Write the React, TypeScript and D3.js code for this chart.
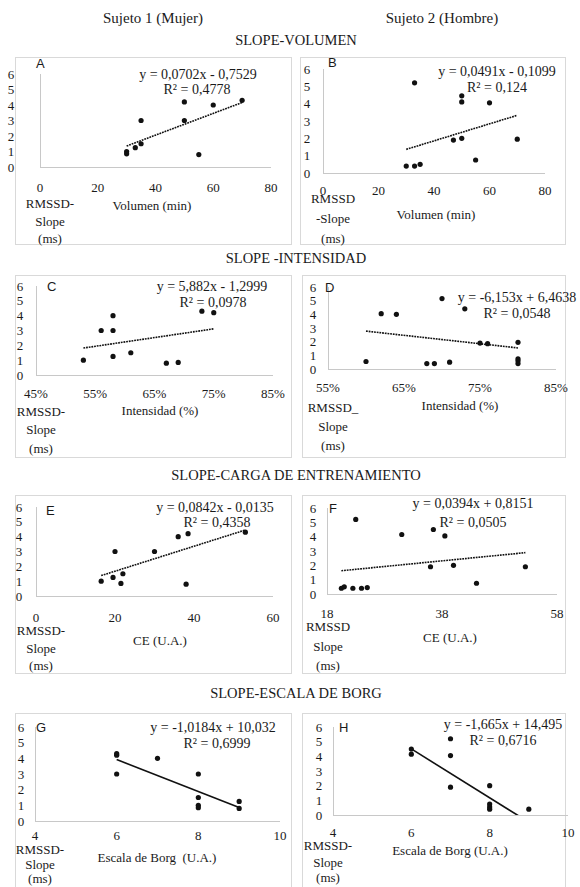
import React from "react";
import * as d3 from "d3";

const SERIF = "'Liberation Serif','Times New Roman',serif";
const SANS = "'Liberation Sans',Arial,sans-serif";

// ---------- data ----------
const subjectTitles = ["Sujeto 1 (Mujer)", "Sujeto 2 (Hombre)"];
const sectionTitles = ["SLOPE-VOLUMEN", "SLOPE -INTENSIDAD", "SLOPE-CARGA DE ENTRENAMIENTO", "SLOPE-ESCALA DE BORG"];
const panelLetters = ["A", "B", "C", "D", "E", "F", "G", "H"];

const yTicks = [0, 1, 2, 3, 4, 5, 6];

// A: Volumen, sujeto 1
const volA = [30, 30, 33, 35, 35, 50, 50, 60, 70, 55];
const slopeA = [1.0, 0.85, 1.25, 1.5, 3.0, 4.2, 3.0, 4.0, 4.3, 0.8];
// B: Volumen, sujeto 2
const volB = [30, 33, 35, 33, 47, 50, 50, 50, 60, 55, 70];
const slopeB = [0.4, 0.4, 0.5, 5.2, 1.9, 2.0, 4.45, 4.1, 4.05, 0.75, 1.95];
// C: Intensidad, sujeto 1
const intC = [0.53, 0.56, 0.58, 0.58, 0.58, 0.61, 0.67, 0.69, 0.73, 0.75];
const slopeC = [1.0, 3.0, 3.0, 4.0, 1.25, 1.5, 0.8, 0.85, 4.3, 4.2];
// D: Intensidad, sujeto 2
const intD = [0.6, 0.62, 0.64, 0.68, 0.69, 0.7, 0.71, 0.73, 0.75, 0.76, 0.8, 0.8, 0.8, 0.8];
const slopeD = [0.55, 4.05, 4.0, 0.4, 0.4, 5.15, 0.5, 4.4, 1.9, 1.85, 1.95, 0.75, 0.6, 0.4];
// E: CE, sujeto 1
const ceE = [16.5, 19.5, 20, 21.5, 22, 30, 36, 38.5, 38, 53];
const slopeE = [1.0, 1.25, 3.0, 0.85, 1.5, 3.0, 4.0, 4.2, 0.8, 4.3];
// F: CE, sujeto 2
const ceF = [20.5, 21, 22.5, 24, 25, 23, 31, 36.5, 38.5, 36, 40, 44, 52.5];
const slopeF = [0.4, 0.5, 0.4, 0.4, 0.45, 5.2, 4.15, 4.5, 4.05, 1.9, 2.0, 0.75, 1.9];
// G: Borg, sujeto 1
const borgG = [6, 6, 6, 7, 8, 8, 8, 8, 9, 9];
const slopeG = [4.3, 4.2, 3.0, 4.0, 3.0, 1.5, 1.0, 0.85, 1.25, 0.8];
// H: Borg, sujeto 2
const borgH = [6, 6, 7, 7, 7, 8, 8, 8, 8, 9];
const slopeH = [4.5, 4.15, 5.2, 4.05, 1.9, 2.0, 0.75, 0.55, 0.4, 0.4];

const trendSlopes = [0.0702, 0.0491, 5.882, -6.153, 0.0842, 0.0394, -1.0184, -1.665];
const trendIntercepts = [-0.7529, -0.1099, -1.2999, 6.4638, -0.0135, 0.8151, 10.032, 14.495];
const eqTexts = [
  "y = 0,0702x - 0,7529",
  "y = 0,0491x - 0,1099",
  "y = 5,882x - 1,2999",
  "y = -6,153x + 6,4638",
  "y = 0,0842x - 0,0135",
  "y = 0,0394x + 0,8151",
  "y = -1,0184x + 10,032",
  "y = -1,665x + 14,495",
];
const r2Texts = ["R² = 0,4778", "R² = 0,124", "R² = 0,0978", "R² = 0,0548", "R² = 0,4358", "R² = 0,0505", "R² = 0,6999", "R² = 0,6716"];

const xDomains = [[0, 80], [0, 80], [0.45, 0.85], [0.55, 0.85], [0, 60], [18, 58], [4, 10], [4, 10]];
const xTickSets = [
  [0, 20, 40, 60, 80],
  [0, 20, 40, 60, 80],
  [0.45, 0.55, 0.65, 0.75, 0.85],
  [0.55, 0.65, 0.75, 0.85],
  [0, 20, 40, 60],
  [18, 38, 58],
  [4, 6, 8, 10],
  [4, 6, 8, 10],
];
const xAxisTitles = ["Volumen (min)", "Volumen (min)", "Intensidad (%)", "Intensidad (%)", "CE (U.A.)", "CE (U.A.)", "Escala de Borg  (U.A.)", "Escala de Borg (U.A.)"];
const yAxisTitles = [
  ["RMSSD-", "Slope", "(ms)"],
  ["RMSSD", "-Slope", "(ms)"],
  ["RMSSD-", "Slope", "(ms)"],
  ["RMSSD_", "Slope", "(ms)"],
  ["RMSSD-", "Slope", "(ms)"],
  ["RMSSD", "Slope", "(ms)"],
  ["RMSSD-", "Slope", "(ms)"],
  ["RMSSD-", "Slope", "(ms)"],
];

const xsAll = [volA, volB, intC, intD, ceE, ceF, borgG, borgH];
const ysAll = [slopeA, slopeB, slopeC, slopeD, slopeE, slopeF, slopeG, slopeH];

// ---------- layout (positions) ----------
type Layout = {
  frame: [number, number, number, number];
  px: [number, number];
  py: [number, number]; // y of 0, y of 6
  letter: [number, number];
  yTickX: number;
  xTickY: number;
  eq: [number, number];
  r2: [number, number];
  xTitle: [number, number];
  yTitleX: number;
  yTitleYs: number[];
  pct: boolean;
  dotted: boolean;
};

const LX0 = 15, LX1 = 291, RX0 = 301, RX1 = 565;
const layouts: Layout[] = [
  { frame: [LX0, 57, LX1, 244], px: [40, 271], py: [167, 74], letter: [36, 63], yTickX: 11, xTickY: 187, eq: [198, 74], r2: [197, 89], xTitle: [152, 205], yTitleX: 50, yTitleYs: [203, 221, 238], pct: false, dotted: true },
  { frame: [RX0 - 1, 57, RX1, 244], px: [323, 545], py: [173, 69], letter: [328, 62], yTickX: 307, xTickY: 190, eq: [497, 71], r2: [497, 87], xTitle: [436, 214], yTitleX: 333, yTitleYs: [198, 218, 238], pct: false, dotted: true },
  { frame: [LX0, 275, LX1, 457], px: [36, 273], py: [375, 286], letter: [47, 286], yTickX: 20, xTickY: 393, eq: [212, 286], r2: [213, 302], xTitle: [160, 410], yTitleX: 41, yTitleYs: [411, 429, 448], pct: true, dotted: true },
  { frame: [RX0 + 1, 275, RX1, 457], px: [328, 556], py: [369, 287], letter: [325, 287], yTickX: 313, xTickY: 387, eq: [517, 297], r2: [517, 313], xTitle: [460, 405], yTitleX: 333, yTitleYs: [407, 426, 445], pct: true, dotted: true },
  { frame: [LX0, 495, LX1, 673], px: [36, 273], py: [596, 507], letter: [46, 510], yTickX: 19, xTickY: 617, eq: [215, 507], r2: [217, 522], xTitle: [160, 640], yTitleX: 41, yTitleYs: [630, 648, 665], pct: false, dotted: true },
  { frame: [RX0 + 1, 495, RX1, 673], px: [327, 557], py: [594, 508], letter: [329, 508], yTickX: 313, xTickY: 613, eq: [473, 503], r2: [473, 522], xTitle: [450, 637], yTitleX: 328, yTitleYs: [626, 646, 665], pct: false, dotted: true },
  { frame: [LX0, 713, LX1, 900], px: [35, 280], py: [821, 727], letter: [36, 727], yTickX: 21, xTickY: 835, eq: [213, 727], r2: [217, 743], xTitle: [157, 857], yTitleX: 40, yTitleYs: [849, 864, 878], pct: false, dotted: false },
  { frame: [RX0 + 1, 713, RX1, 900], px: [333, 568], py: [815, 727], letter: [339, 727], yTickX: 319, xTickY: 832, eq: [503, 724], r2: [503, 740], xTitle: [450, 850], yTitleX: 328, yTitleYs: [845, 862, 877], pct: false, dotted: false },
];

const TXT = "#1a1a1a";
const AXIS = "#c8c8c8";
const FRAME = "#d9d9d9";

function Panel({ i }: { i: number }) {
  const L = layouts[i];
  const xs = xsAll[i];
  const ys = ysAll[i];
  const x = d3.scaleLinear().domain(xDomains[i]).range(L.px);
  const y = d3.scaleLinear().domain([0, 6]).range(L.py);
  const fmt = L.pct ? d3.format(".0%") : d3.format("d");
  const [xmin, xmax] = d3.extent(xs) as [number, number];
  const line = d3
    .line<number>()
    .x((v) => x(v))
    .y((v) => y(trendSlopes[i] * v + trendIntercepts[i]));
  const clipId = `clip-${i}`;
  const [f0, f1, f2, f3] = L.frame;
  return (
    <g>
      <rect x={f0 + 0.5} y={f1 + 0.5} width={f2 - f0} height={f3 - f1} fill="#fff" stroke={FRAME} strokeWidth={1} />
      <defs>
        <clipPath id={clipId}>
          <rect x={L.px[0]} y={L.py[1] - 5} width={L.px[1] - L.px[0] + 5} height={L.py[0] - L.py[1] + 5} />
        </clipPath>
      </defs>
      <line x1={L.px[0] + 0.5} x2={L.px[0] + 0.5} y1={L.py[1]} y2={L.py[0]} stroke={AXIS} strokeWidth={1} />
      <line x1={L.px[0]} x2={L.px[1]} y1={L.py[0] + 0.5} y2={L.py[0] + 0.5} stroke={AXIS} strokeWidth={1} />
      {yTicks.map((t) => (
        <text key={t} x={L.yTickX} y={y(t)} dy="0.35em" textAnchor="middle" fontFamily={SERIF} fontSize={13} fill={TXT}>
          {t}
        </text>
      ))}
      {xTickSets[i].map((t) => (
        <text key={t} x={x(t)} y={L.xTickY} dy="0.35em" textAnchor="middle" fontFamily={SERIF} fontSize={13} fill={TXT}>
          {fmt(t)}
        </text>
      ))}
      <path
        d={line([xmin, xmax]) || ""}
        clipPath={`url(#${clipId})`}
        fill="none"
        stroke="#111"
        strokeWidth={1.6}
        strokeDasharray={L.dotted ? "1.8 0.9" : undefined}
      />
      {xs.map((v, k) => (
        <circle key={k} cx={x(v)} cy={y(ys[k])} r={2.6} fill="#111" />
      ))}
      <text x={L.letter[0]} y={L.letter[1]} dy="0.35em" fontFamily={SANS} fontSize={13} fill={TXT}>
        {panelLetters[i]}
      </text>
      <text x={L.eq[0]} y={L.eq[1]} dy="0.35em" textAnchor="middle" fontFamily={SERIF} fontSize={14} fill={TXT}>
        {eqTexts[i]}
      </text>
      <text x={L.r2[0]} y={L.r2[1]} dy="0.35em" textAnchor="middle" fontFamily={SERIF} fontSize={14} fill={TXT}>
        {r2Texts[i]}
      </text>
      <text x={L.xTitle[0]} y={L.xTitle[1]} dy="0.35em" textAnchor="middle" fontFamily={SERIF} fontSize={13} fill={TXT} style={{ whiteSpace: "pre" }}>
        {xAxisTitles[i]}
      </text>
      {yAxisTitles[i].map((s, k) => (
        <text key={k} x={L.yTitleX} y={L.yTitleYs[k]} dy="0.35em" textAnchor="middle" fontFamily={SERIF} fontSize={13} fill={TXT}>
          {s}
        </text>
      ))}
    </g>
  );
}

const sectionY = [40, 258, 475, 693];

export default function App() {
  return (
    <svg width={580} height={887} style={{ position: "absolute", left: 0, top: 0, display: "block", background: "#fff" }}>
      <rect width={580} height={887} fill="#fff" />
      <text x={153} y={18} dy="0.35em" textAnchor="middle" fontFamily={SERIF} fontSize={15} fill={TXT}>
        {subjectTitles[0]}
      </text>
      <text x={442} y={18} dy="0.35em" textAnchor="middle" fontFamily={SERIF} fontSize={15} fill={TXT}>
        {subjectTitles[1]}
      </text>
      {sectionTitles.map((s, k) => (
        <text key={k} x={296} y={sectionY[k]} dy="0.35em" textAnchor="middle" fontFamily={SERIF} fontSize={14.5} fill={TXT}>
          {s}
        </text>
      ))}
      {panelLetters.map((_, i) => (
        <Panel key={i} i={i} />
      ))}
    </svg>
  );
}
